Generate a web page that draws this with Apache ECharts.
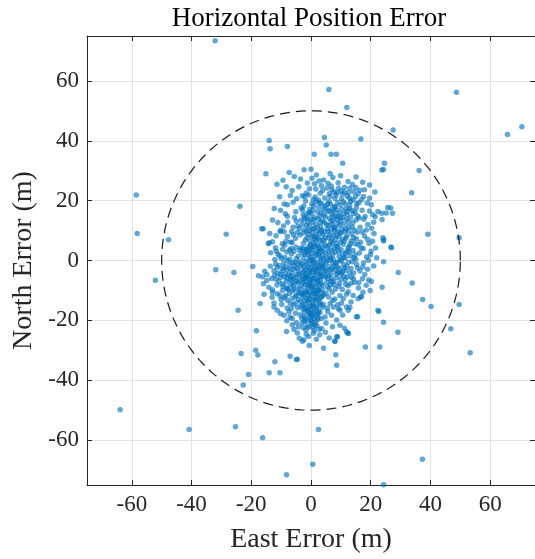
<!DOCTYPE html>
<html>
<head>
<meta charset="utf-8">
<script src="https://cdn.jsdelivr.net/npm/echarts@6/dist/echarts.min.js"></script>
<style>
  html, body { margin: 0; padding: 0; background: #fff; }
  #chart { width: 535px; height: 559px; }
</style>
</head>
<body>
<div id="chart"></div>
<script>
// east / north position errors in metres
const outliers = [
  [-32.1,73.4],[6.0,57.1],[48.7,56.2],[70.6,44.7],[65.8,42.1],[12.0,51.1],[27.5,43.6],
  [-58.5,21.9],[-58.2,9.0],[-47.7,6.9],[-52.1,-6.6],[-63.9,-49.9],[-40.8,-56.5],[-25.3,-55.5],
  [-16.2,-59.2],[-8.2,-71.6],[0.6,-68.1],[2.5,-56.5],[37.3,-66.4],[24.3,-74.9],[53.3,-30.8],
  [46.8,-22.8],[49.6,-14.7],[49.6,7.6],[39.1,8.8],
  [-31.9,-3.1],[-25.8,-4.0],[-19.5,-2.0],[-24.4,-16.6],[-18.3,-23.5],[-23.4,-31.1],[-18.5,-30.0],
  [-17.8,-31.6],[-20.9,-38.1],[-22.7,-41.6],[-14.0,-37.5],[-10.4,-37.5],[-12.1,-33.8],[-7.0,-32.0],[-4.9,-33.1],
  [-14.0,40.1],[-13.7,37.3],[-7.9,38.1],[-15.1,29.0],[-7.3,29.4],[-2.3,30.3],[-11.4,25.5],[-23.8,18.1],
  [-28.4,8.8],[-16.5,10.6],[-16.0,10.6],
  [4.5,41.1],[5.1,38.6],[16.7,40.6],[1.1,35.5],[6.7,35.5],[8.5,35.5],[10.6,32.5],[24.6,32.5],[23.7,30.2],
  [24.3,30.4],[36.2,30.1],[0.0,30.5],[33.7,22.6],[19.6,25.2],[26.7,17.5],[27.3,15.8],[26.9,4.3],[24.3,6.9],[23.7,15.8],
  [40.2,-15.4],[37.4,-13.0],[33.9,-7.5],[29.2,-4.0],[24.3,-0.4],[23.8,-8.9],[22.7,-17.0],[24.3,-20.6],[29.1,-24.0],
  [18.2,-28.9],[23.0,-28.9],[8.3,-31.5],[8.6,-35.0],[15.6,-18.8],[12.4,-24.2],[6.1,-25.9],[8.0,-26.9],[8.7,-25.5],
  [11.2,-22.6],[-2.9,-27.0],[-4.6,-33.0],[19.8,-10.0],[16.6,-12.2],[-17.0,-14.4],[-8.2,-23.7],[-6.3,-21.5],[-4.6,-24.2]
];

const cluster = [
  // north 25..30
  [-3.5,27.2],[1.8,28.6],[4.2,26.9],[7.3,27.7],[9.9,28.3],[12.4,26.4],[-9.4,26.8],[15.1,27.9],[-1.2,25.9],
  [5.7,25.8],[1.2,25.6],[3.5,25.0],[17.3,26.1],[-5.6,28.1],[-0.5,24.0],[2.7,26.6],[0.3,27.5],[6.4,29.1],
  [9.1,26.0],[13.9,25.4],[11.2,24.5],
  // 20..25
  [-10.5,21.3],[-6.3,23.4],[-2.9,21.6],[-0.8,21.9],[1.6,23.9],[3.1,22.5],[6.4,21.4],[7.0,23.6],[8.4,21.9],
  [9.2,24.1],[11.3,22.8],[13.0,24.1],[15.0,24.4],[16.3,23.5],[15.8,22.3],[17.6,21.4],[19.6,20.8],[16.9,20.3],
  [14.1,20.3],[-2.2,21.4],[-1.6,22.5],[0.8,20.4],[4.6,20.9],[10.2,20.6],[12.1,21.5],[5.3,24.2],[-4.1,24.6],
  [21.4,22.9],[2.5,20.2],[6.1,22.3],[8.0,20.7],[10.5,22.2],[12.9,20.9],[14.9,21.4],[7.7,22.9],[17.9,23.6],
  [-6.9,21.7],[-8.3,24.6],[-4.8,20.6],[1.4,21.2],[3.9,23.4],[6.8,24.9],[10.1,23.3],[12.6,22.6],[14.3,23.0],
  [8.7,22.6],
  // 15..20
  [-9.0,18.9],[-7.9,18.6],[-6.0,19.5],[-10.2,16.8],[-7.9,14.8],[-3.3,17.5],[-2.6,15.3],[-1.8,19.9],[-0.4,17.1],
  [0.9,18.3],[2.2,16.2],[3.6,19.0],[5.1,17.6],[6.5,18.8],[7.7,16.4],[8.9,19.4],[10.3,17.1],[11.5,18.9],
  [13.0,18.6],[15.2,17.7],[14.2,15.6],[18.8,19.2],[20.2,18.6],[22.4,16.4],[20.7,15.3],[25.7,17.7],[25.2,15.9],
  [17.1,16.8],[12.2,15.4],[9.4,15.8],[4.3,15.2],[0.2,15.6],[-5.1,16.3],[6.9,15.5],[1.8,19.6],[-12.3,17.4],[16.0,19.3],
  [-2.8,16.9],[-1.1,15.8],[0.7,16.9],[2.6,17.8],[3.4,15.9],[-0.5,16.0],[-2.4,18.2],[0.3,19.0],[2.9,19.3],
  [4.6,18.2],[6.0,19.7],[7.9,18.0],[9.8,18.5],[11.8,17.3],[13.6,16.8],[15.3,19.0],[5.5,16.4],[7.1,17.1],[8.6,16.9],
  [10.9,15.7],[12.9,17.4],[14.8,16.3],[15.7,14.9],[18.1,14.7],[19.6,16.5],[-5.5,14.4],[-8.6,15.6],
  [5.6,19.0],[10.8,19.6],[13.3,19.8],[4.1,17.0],[8.1,17.9],[12.0,16.3],[6.1,16.6],
  // 10..15
  [-10.3,9.7],[-9.0,9.6],[-10.2,10.0],[-6.5,9.6],[-4.9,13.1],[-4.4,11.5],[-3.3,13.5],[-2.2,13.7],[-1.3,14.2],
  [-2.2,10.3],[0.3,12.6],[1.1,10.8],[2.4,13.9],[3.2,11.4],[4.5,12.8],[5.4,10.5],[6.2,14.1],[7.1,12.0],
  [8.0,10.9],[8.8,13.6],[9.6,11.7],[10.7,14.4],[11.6,10.6],[12.5,12.9],[13.8,11.2],[15.1,13.5],[16.4,11.1],
  [17.7,13.8],[19.0,12.0],[20.3,10.8],[23.8,13.7],[21.5,14.6],[-7.8,12.8],[-0.7,11.3],[2.9,14.8],[5.9,11.7],
  [9.2,14.9],[13.2,14.3],[18.5,10.2],[7.4,13.3],[11.0,12.2],
  [-2.0,14.6],[-0.2,13.9],[1.6,12.1],[3.8,13.3],[-2.9,12.0],[-1.5,11.9],[0.5,10.6],[3.6,10.2],[1.2,14.4],
  [4.8,14.6],[6.7,13.2],[8.3,14.6],[10.0,13.1],[11.9,13.8],[14.0,12.6],[5.2,12.0],[7.8,11.2],[9.0,12.4],
  [10.4,10.4],[12.6,11.3],[14.6,10.1],[16.1,14.2],[21.0,12.8],[-9.2,11.5],[-6.0,11.1],[-3.9,10.7],[-11.1,12.7],
  [-12.9,13.5],[9.9,14.2],[7.5,14.9],[3.1,12.7],[0.9,13.7],[-1.0,12.9],[2.1,11.0],[6.9,10.4],
  // 5..10
  [-14.0,5.9],[-11.9,4.3],[-6.9,6.2],[-12.9,6.3],[-14.3,5.6],[-9.6,5.6],[-8.8,5.2],[-6.3,6.0],[-3.7,8.5],
  [-1.3,7.6],[-2.5,5.8],[0.6,9.3],[1.5,6.8],[2.8,8.9],[3.7,5.4],[4.9,7.7],[5.8,9.6],[6.6,6.3],[7.5,8.5],
  [8.4,5.7],[9.3,7.9],[10.2,9.3],[11.1,6.4],[12.0,8.3],[13.1,5.5],[14.3,7.6],[15.5,9.4],[16.6,6.1],[17.9,8.2],
  [19.4,5.8],[21.1,9.0],[24.1,7.6],[24.3,6.5],[-4.5,9.4],[-0.2,5.3],[3.3,9.9],[6.1,5.1],[8.9,9.8],[12.7,9.9],
  [15.8,5.3],[10.6,7.1],[7.0,7.2],[1.0,8.1],[-7.9,8.0],[-5.2,7.4],
  [2.0,9.7],[-2.6,9.2],[-0.9,8.8],[1.8,8.0],[2.9,6.7],[-1.9,6.9],[-0.3,6.3],[0.9,5.6],[2.2,5.2],[3.9,6.9],
  [-1.4,9.8],[1.1,7.2],[4.4,9.4],[6.3,8.7],[7.9,9.9],[9.7,9.1],[11.5,9.8],[13.7,8.8],[15.2,7.3],[4.5,6.6],
  [5.9,7.7],[8.1,7.0],[9.8,6.1],[11.7,7.5],[13.5,6.5],[4.9,5.0],[7.2,5.6],[10.8,5.4],[14.7,5.6],[17.2,9.5],
  [18.9,7.1],[20.6,6.4],[-8.4,6.4],[-5.9,8.6],[-13.8,9.0],[-11.7,8.3],[4.0,8.6],[8.6,8.3],[0.2,7.9],
  [-0.5,9.9],[2.4,7.4],
  // 0..5
  [-13.5,2.6],[-11.0,2.1],[-10.4,1.5],[-8.8,1.0],[-7.1,0.4],[-5.7,3.1],[-4.3,1.4],[-3.5,4.2],[-2.4,0.8],
  [-1.6,2.9],[-0.8,4.6],[-0.3,1.2],[0.5,3.5],[1.1,0.3],[1.8,2.2],[2.4,4.4],[3.0,1.1],[3.6,3.2],[4.2,0.6],
  [4.8,2.6],[5.5,4.5],[6.1,1.7],[6.8,3.4],[7.4,0.5],[8.1,2.8],[8.7,4.6],[9.4,1.3],[10.1,3.6],[10.9,0.8],
  [11.6,2.4],[12.4,4.1],[13.2,1.5],[14.1,3.3],[15.0,0.4],[16.2,2.5],[17.5,4.0],[18.6,1.2],[20.1,3.1],[22.0,0.9],
  [26.8,4.5],[-9.5,3.8],[-6.5,2.2],[-2.0,3.7],[0.0,0.4],[2.7,3.0],[5.1,1.0],[7.7,4.0],[9.9,0.2],[12.0,3.0],
  [-1.1,1.9],[1.4,4.9],[4.0,4.0],[6.4,0.1],[-3.0,2.5],[-12.1,0.3],[14.8,1.9],[19.2,0.1],
  [-2.7,4.1],[-1.3,3.6],[0.2,2.4],[1.3,1.6],[2.5,1.9],[3.3,0.2],[-2.2,2.0],[-0.6,0.1],[-0.1,4.2],[3.0,3.8],
  [5.8,3.1],[7.3,2.0],[9.2,3.0],[10.6,2.0],[12.9,2.9],[14.4,0.9],[6.6,0.6],[11.5,1.0],[9.0,4.6],[12.8,4.7],
  [16.8,4.2],[19.9,1.9],[21.6,4.2],[-3.8,3.3],[-5.1,4.5],[-6.7,4.0],[-8.1,2.8],[-9.9,0.7],[-4.9,0.6],
  [-7.1,3.5],[-11.6,3.1],[0.6,4.6],[1.9,3.2],[-0.8,3.0],[3.9,1.9],
  // -5..0
  [-15.5,-3.6],[-17.6,-5.1],[-16.2,-5.4],[-14.8,-4.7],[-12.4,-3.4],[-11.3,-2.3],[-10.2,-4.6],[-11.8,-1.2],
  [-9.1,-0.8],[-8.0,-3.1],[-7.2,-1.5],[-6.4,-4.2],[-5.5,-0.6],[-4.7,-2.7],[-3.9,-4.6],[-3.1,-1.1],[-2.4,-3.4],
  [-1.7,-0.4],[-1.0,-2.2],[-0.4,-4.1],[0.2,-1.3],[0.9,-3.0],[1.5,-4.8],[2.1,-0.7],[2.8,-2.5],[3.4,-4.3],
  [4.0,-1.6],[4.7,-3.6],[5.3,-0.2],[6.0,-2.1],[6.7,-4.4],[7.3,-1.0],[8.0,-3.2],[8.7,-0.5],[9.4,-2.6],
  [10.2,-4.5],[10.9,-1.4],[11.7,-3.3],[12.5,-0.6],[13.4,-2.7],[14.3,-4.2],[15.3,-1.3],[16.4,-3.5],[17.6,-0.8],
  [18.9,-2.9],[21.0,-1.8],[-13.6,-1.9],[-5.9,-2.9],[-2.0,-4.9],[0.5,-0.2],[3.1,-1.8],[5.8,-4.9],[9.0,-4.0],
  [12.0,-1.9],[-0.7,-3.3],[1.8,-2.9],[-8.6,-4.5],[-3.5,-2.0],[7.0,-2.8],
  [0.8,-0.8],[2.0,-1.5],[3.6,-0.9],[-2.5,-1.9],[-1.4,-1.2],[-0.2,-2.6],[1.2,-2.1],[2.4,-3.4],[3.8,-2.7],
  [-2.8,-4.0],[-1.3,-4.5],[1.6,-4.0],[-1.8,-3.0],[0.4,-3.8],[3.1,-4.6],[5.0,-0.8],[8.3,-0.8],[10.1,-0.2],
  [13.8,-0.4],[4.4,-2.3],[6.3,-3.2],[7.8,-1.9],[9.7,-3.9],[11.1,-2.5],[13.0,-4.2],[15.6,-2.5],[17.3,-2.2],
  [18.0,-4.7],[-3.7,-0.4],[-4.2,-3.6],[-5.4,-1.9],[-7.0,-2.8],[-8.7,-2.2],[-9.7,-3.5],[-11.2,-4.3],
  [-6.2,-0.8],[-7.8,-0.1],[-10.6,-1.7],[5.1,-3.4],[8.8,-2.1],[10.6,-3.6],[-4.5,-1.2],[-9.3,-2.6],
  // -10..-5
  [-15.9,-7.8],[-14.8,-6.7],[-10.2,-5.6],[-11.8,-6.2],[-9.6,-7.8],[-12.9,-9.8],[-8.2,-9.1],[-7.0,-6.3],
  [-6.0,-8.4],[-5.1,-5.7],[-4.3,-7.5],[-3.5,-9.6],[-2.8,-6.2],[-2.1,-8.1],[-1.4,-5.4],[-0.7,-9.2],[-0.1,-6.8],
  [0.6,-8.6],[1.2,-5.9],[1.9,-7.7],[2.6,-9.5],[3.2,-6.4],[3.9,-8.3],[4.6,-5.5],[5.3,-7.2],[6.1,-9.4],
  [6.9,-6.0],[7.7,-8.1],[8.6,-5.8],[9.5,-7.6],[10.5,-9.7],[11.4,-6.5],[12.4,-8.4],[13.5,-5.6],[14.6,-7.3],
  [15.9,-9.2],[17.2,-6.1],[18.5,-8.3],[20.2,-7.0],[-11.4,-8.2],[-7.6,-9.7],[-4.8,-6.9],[-1.8,-7.0],[0.9,-9.9],
  [2.3,-6.9],[5.6,-8.8],[8.2,-9.5],[11.0,-5.3],[-0.4,-7.6],[3.5,-5.2],[-6.8,-5.3],
  [0.1,-5.2],[2.9,-5.6],[-2.3,-5.9],[-0.8,-6.3],[0.6,-7.1],[2.0,-6.4],[3.4,-7.6],[-2.6,-7.3],[-1.2,-8.4],
  [0.2,-9.0],[1.4,-8.7],[2.8,-8.2],[3.9,-9.8],[-2.0,-9.9],[-0.4,-8.0],[2.4,-9.9],[4.9,-5.1],[6.8,-6.9],
  [8.5,-4.6],[10.0,-6.2],[12.1,-5.5],[14.2,-6.1],[5.7,-6.0],[7.6,-7.1],[9.3,-8.6],[11.6,-7.9],[13.3,-7.7],
  [16.0,-7.4],[19.3,-6.5],[-3.4,-5.3],[-4.9,-4.8],[-6.0,-5.9],[-7.5,-4.8],[-9.0,-5.5],[-10.8,-6.9],[-3.9,-6.8],
  [-5.6,-7.5],[-6.8,-8.1],[-8.3,-7.2],[-9.4,-8.6],[-3.2,-8.4],[-4.6,-9.3],[-13.2,-6.0],[-14.1,-8.9],[-12.2,-4.9],
  [-1.5,-5.6],[0.5,-6.0],[6.5,-8.0],[-6.6,-6.7],[-8.0,-5.9],[-5.8,-9.6],
  // -15..-10
  [-15.7,-11.3],[-12.9,-10.6],[-11.3,-11.1],[-9.6,-10.0],[-7.9,-9.5],[-8.5,-11.7],[-7.9,-13.3],[-6.9,-14.4],
  [-12.4,-14.2],[-5.3,-12.1],[-4.2,-10.7],[-3.4,-13.6],[-2.6,-11.5],[-1.9,-14.5],[-1.1,-10.4],[-0.4,-12.8],
  [0.3,-14.9],[1.0,-11.2],[1.7,-13.4],[2.5,-10.1],[3.3,-12.4],[4.1,-14.6],[5.0,-10.9],[5.9,-12.2],[6.4,-14.4],
  [8.0,-12.9],[9.7,-11.7],[10.8,-12.8],[11.9,-11.3],[13.4,-13.9],[15.8,-12.8],[16.9,-12.0],[-10.0,-13.0],
  [-3.0,-11.9],[0.6,-13.1],[2.9,-14.0],[7.1,-10.6],[12.5,-10.4],[-5.8,-14.8],[-0.9,-11.8],
  [-0.5,-10.8],[0.9,-10.3],[2.2,-11.4],[3.6,-10.9],[-2.4,-11.0],[-1.6,-12.6],[0.0,-11.6],[1.3,-12.9],[2.6,-13.1],
  [3.7,-12.1],[-2.2,-13.3],[-0.7,-14.0],[0.8,-14.6],[3.2,-14.7],[-2.9,-14.8],[-1.0,-13.4],[1.9,-12.0],
  [14.1,-11.7],[10.2,-14.3],[8.9,-14.8],[7.3,-13.4],[17.4,-10.6],[-6.1,-10.2],[-7.2,-11.1],[-8.9,-12.4],
  [-10.4,-11.8],[-3.6,-10.9],[-4.9,-11.6],[-6.3,-12.8],[-4.2,-13.0],[-5.0,-14.2],[-13.0,-12.3],[-9.8,-14.7],
  [1.6,-10.9],[-1.8,-10.6],[4.2,-11.5],
  // -20..-15
  [-12.4,-15.5],[-11.3,-16.6],[-10.2,-17.8],[-9.0,-18.3],[-7.4,-17.2],[-6.3,-19.4],[-4.5,-15.8],[-3.6,-18.1],
  [-2.7,-16.3],[-1.9,-19.5],[-1.0,-17.0],[-0.2,-15.4],[0.6,-18.6],[1.4,-16.7],[2.2,-19.8],[3.0,-17.4],
  [3.9,-15.6],[4.7,-18.9],[7.5,-15.5],[9.2,-16.1],[9.7,-16.6],[11.9,-15.5],[12.5,-16.6],[15.2,-18.8],
  [8.6,-19.9],[22.4,-16.6],[-5.2,-17.6],[0.1,-17.9],[1.9,-15.1],[5.6,-17.1],[10.6,-18.2],[-8.0,-15.9],[-2.3,-18.7],
  [2.0,-15.8],[-1.4,-15.7],[0.1,-16.3],[1.0,-17.4],[2.6,-16.9],[-2.1,-17.3],[-0.6,-18.3],[0.9,-19.3],[1.9,-18.1],
  [-0.2,-19.0],[3.4,-19.4],[-3.1,-19.3],[-0.9,-16.5],[2.3,-17.9],[13.0,-15.6],[5.5,-15.9],[6.9,-18.3],
  [-3.3,-15.3],[-6.6,-16.1],[-7.0,-19.0],[0.9,-15.5],[-0.3,-17.6],[2.3,-19.1],[-2.0,-16.0],
  // -25..-20
  [-3.0,-21.0],[-1.6,-24.6],[-0.7,-22.3],[0.2,-20.6],[1.1,-23.4],[2.0,-21.8],[2.9,-24.8],[-2.2,-20.4],
  [9.7,-21.6],[11.9,-23.8],[12.5,-24.4],[-4.2,-22.2],[0.8,-24.3],[3.6,-22.7],[-1.2,-21.9],
  [-1.3,-20.1],[0.4,-21.1],[1.5,-20.6],[2.7,-23.0],[-1.7,-23.2],[0.6,-22.4],[0.0,-20.0],[-2.5,-22.5],
  [5.0,-20.9],[7.2,-22.1],[4.8,-24.0],[-8.1,-20.1],[-5.7,-23.0],[-4.9,-20.8],[1.3,-21.6],
  // below -25
  [-2.4,-26.5],[8.8,-25.5],[8.0,-27.1],[1.8,-26.3],[-0.6,-28.4],[4.2,-29.3],[-3.9,-26.0],[-0.8,-25.4]
];

const circleRadius = 50;
const axisMin = -75;
const axisMax = 75;

const serif = 'Liberation Serif';
const frameColor = '#262626';

function valueAxis(extra) {
  return Object.assign({
    type: 'value',
    min: axisMin,
    max: axisMax,
    splitNumber: 7,
    axisLine: { show: true, onZero: false, lineStyle: { color: frameColor, width: 1 } },
    axisTick: { show: true, inside: true, length: 5, lineStyle: { color: frameColor } },
    axisLabel: {
      show: true, fontFamily: serif, fontSize: 23, color: '#262626', margin: 8,
      showMinLabel: false, showMaxLabel: false
    },
    splitLine: { show: false }
  }, extra);
}

const chart = echarts.init(document.getElementById('chart'), null, { renderer: 'canvas' });

chart.setOption({
  animation: false,
  backgroundColor: '#fff',
  title: {
    text: 'Horizontal Position Error',
    left: 304,
    top: 0,
    textAlign: 'center',
    textStyle: { fontFamily: serif, fontWeight: 'normal', fontSize: 27, color: '#000' }
  },
  grid: { left: 87, top: 36, width: 453, height: 454, containLabel: false },
  xAxis: [
    valueAxis({
      position: 'bottom',
      name: 'East Error (m)',
      nameLocation: 'middle',
      nameGap: 41,
      nameTextStyle: { fontFamily: serif, fontSize: 28, color: '#262626' },
      splitLine: { show: true, lineStyle: { color: '#e3e3e3', width: 1 } }
    }),
    valueAxis({ position: 'top', axisLabel: { show: false } })
  ],
  yAxis: [
    valueAxis({
      position: 'left',
      name: 'North Error (m)',
      nameLocation: 'middle',
      nameGap: 43,
      nameTextStyle: { fontFamily: serif, fontSize: 28, color: '#262626' },
      splitLine: { show: true, lineStyle: { color: '#e3e3e3', width: 1 } }
    }),
    valueAxis({ position: 'right', axisLabel: { show: false } })
  ],
  series: [
    {
      type: 'scatter',
      xAxisIndex: 0,
      yAxisIndex: 0,
      data: cluster.concat(outliers),
      symbolSize: 5.5,
      itemStyle: { color: 'rgba(0,114,189,0.78)' },
      clip: true,
      z: 3
    },
    {
      type: 'custom',
      xAxisIndex: 0,
      yAxisIndex: 0,
      data: [[0, 0, circleRadius]],
      clip: true,
      z: 4,
      renderItem: function (params, api) {
        const cx = api.value(0), cy = api.value(1), r = api.value(2);
        const pts = [];
        for (let a = 0; a <= 360; a += 2) {
          const t = a * Math.PI / 180;
          pts.push(api.coord([cx + r * Math.cos(t), cy + r * Math.sin(t)]));
        }
        return {
          type: 'polyline',
          shape: { points: pts },
          style: { fill: null, stroke: '#1a1a1a', lineWidth: 1.2, lineDash: [10, 6] }
        };
      }
    }
  ]
});
</script>
</body>
</html>
